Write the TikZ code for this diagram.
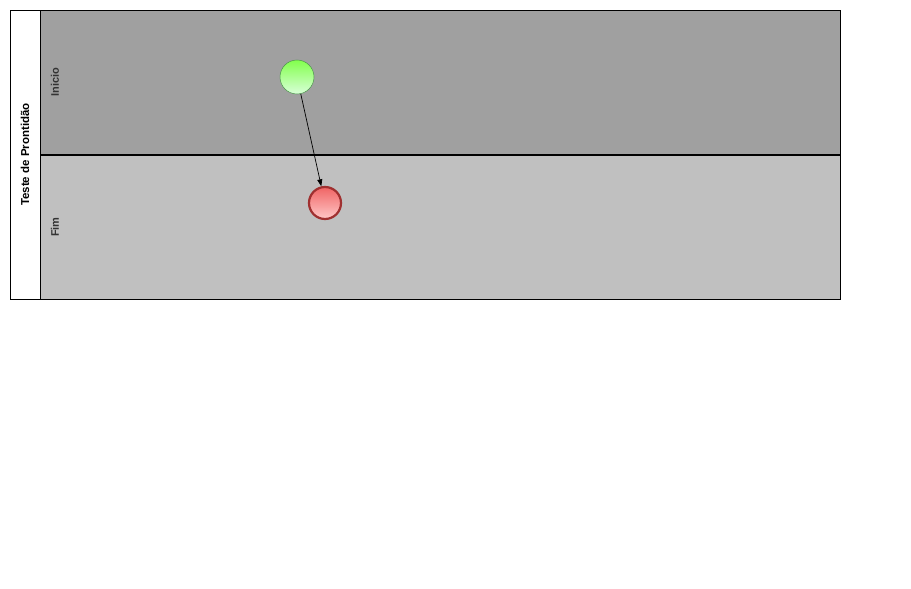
\documentclass[tikz,border=0pt]{standalone}
\usepackage{fontspec}
\setmainfont{Liberation Sans}
\usetikzlibrary{arrows.meta}
\definecolor{laneA}{HTML}{A0A0A0}
\definecolor{laneB}{HTML}{C0C0C0}
\definecolor{txt}{HTML}{333333}
\tikzset{
  lanebox/.style={draw=black, line width=1pt},
  lanelabel/.style={font=\bfseries\fontsize{11}{13}\selectfont, text=txt, rotate=90, anchor=center},
  startev/.style={circle, minimum size=34pt, inner sep=0pt, draw=green!40!black!70, line width=0.5pt, top color=green!60!lime!70, bottom color=green!15!white},
  endev/.style={circle, minimum size=32pt, inner sep=0pt, draw={rgb,255:red,160;green,48;blue,48}, line width=2.2pt, top color={rgb,255:red,240;green,100;blue,100}, bottom color={rgb,255:red,255;green,200;blue,200}},
  flow/.style={-{Triangle[length=7pt,width=5pt]}, line width=0.7pt, black}
}
\begin{document}
\begin{tikzpicture}[x=1pt,y=-1pt]
\useasboundingbox (0,0) rectangle (911,589);
\fill[white] (0,0) rectangle (911,589);
% lanes
\fill[laneA] (40,10) rectangle (840,155);
\fill[laneB] (40,155) rectangle (840,299);
\draw[lanebox] (10,10) rectangle (840,299);
\draw[lanebox] (40,10) -- (40,299);
\draw[lanebox, line width=1.6pt] (40,155) -- (840,155);
\node[lanelabel, text=black, font=\bfseries\fontsize{11.5}{13}\selectfont] (pool) at (25,154.5) {Teste de Prontidão};
\node[lanelabel] (l1) at (55,82) {Inicio};
\node[lanelabel] (l2) at (55,227) {Fim};
% events
\node[startev] (s) at (297,77) {};
\node[endev] (e) at (325,203) {};
\draw[flow] (s) -- (e);
\end{tikzpicture}
\end{document}
